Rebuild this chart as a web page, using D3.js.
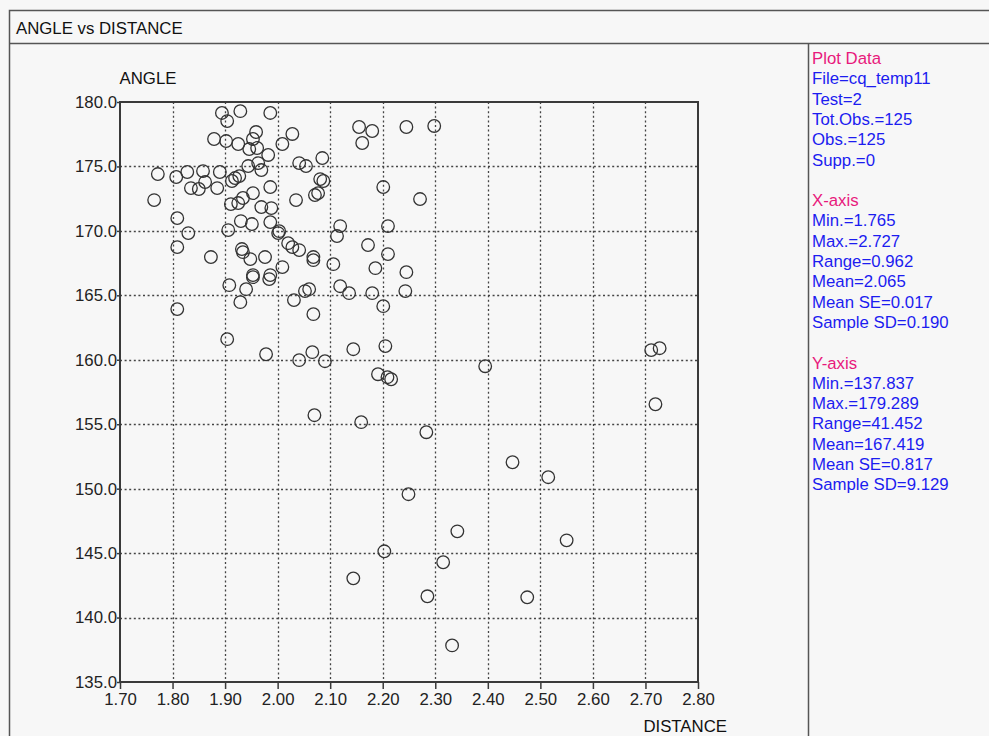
<!DOCTYPE html>
<html>
<head>
<meta charset="utf-8">
<script src="https://cdn.jsdelivr.net/npm/d3@7"></script>
<style>
  html, body { margin: 0; padding: 0; background: #f7f7f7; }
  svg { display: block; font-family: "Liberation Sans", Arial, sans-serif; }
</style>
</head>
<body>
<svg id="chart" width="989" height="736"></svg>
<script>
// DISTANCE values (x)
var distance = [
  1.894, 1.904, 1.929, 1.986, 1.879, 1.902, 1.925, 1.959, 1.953, 1.946,
  1.961, 1.982, 2.009, 2.028, 1.858, 1.862, 1.885, 1.890, 1.913, 1.919,
  1.927, 1.944, 1.963, 1.969, 1.986, 1.953, 1.934, 1.925, 1.911, 1.969,
  1.988, 1.930, 1.951, 1.986, 1.906, 2.003, 2.035, 2.041, 2.054, 2.085,
  2.081, 2.087, 2.077, 2.071, 1.772, 1.807, 1.828, 1.835, 1.850, 1.765,
  1.809, 1.830, 1.809, 1.873, 1.908, 1.809, 1.904, 1.932, 1.934, 1.948,
  1.976, 2.009, 2.001, 2.020, 2.028, 2.041, 2.068, 2.068, 1.953, 1.953,
  1.986, 1.984, 1.940, 1.929, 2.031, 2.052, 2.060, 2.068, 1.978, 2.041,
  2.066, 2.155, 2.180, 2.161, 2.245, 2.298, 2.201, 2.271, 2.119, 2.113,
  2.210, 2.172, 2.210, 2.106, 2.186, 2.245, 2.119, 2.136, 2.180, 2.243,
  2.201, 2.144, 2.205, 2.090, 2.395, 2.191, 2.209, 2.216, 2.159, 2.283,
  2.447, 2.515, 2.249, 2.342, 2.550, 2.203, 2.315, 2.144, 2.285, 2.475,
  2.332, 2.711, 2.727, 2.719, 2.070
];

// ANGLE values (y)
var angle = [
  179.15, 178.52, 179.29, 179.15, 177.13, 176.97, 176.74, 177.67, 177.13, 176.35,
  176.43, 175.89, 176.74, 177.52, 174.64, 173.79, 173.32, 174.57, 173.87, 174.10,
  174.25, 175.03, 175.26, 174.72, 173.40, 172.93, 172.55, 172.16, 172.08, 171.85,
  171.77, 170.76, 170.53, 170.68, 170.06, 169.98, 172.39, 175.26, 175.03, 175.65,
  174.02, 173.87, 172.93, 172.78, 174.41, 174.18, 174.57, 173.32, 173.25, 172.39,
  170.99, 169.83, 168.74, 167.97, 165.79, 163.93, 161.60, 168.59, 168.35, 167.81,
  167.97, 167.19, 169.83, 169.05, 168.74, 168.51, 167.97, 167.73, 166.41, 166.57,
  166.57, 166.26, 165.48, 164.47, 164.63, 165.33, 165.48, 163.54, 160.43, 159.97,
  160.59, 178.06, 177.75, 176.82, 178.06, 178.14, 173.40, 172.47, 170.37, 169.60,
  170.37, 168.90, 168.20, 167.42, 167.11, 166.80, 165.71, 165.17, 165.17, 165.33,
  164.16, 160.82, 161.06, 159.89, 159.50, 158.88, 158.65, 158.49, 155.16, 154.38,
  152.05, 150.89, 149.57, 146.69, 145.99, 145.14, 144.29, 143.04, 141.65, 141.57,
  137.84, 160.75, 160.90, 156.55, 155.70
];

var xTicks = [1.7, 1.8, 1.9, 2.0, 2.1, 2.2, 2.3, 2.4, 2.5, 2.6, 2.7, 2.8];
var yTicks = [135, 140, 145, 150, 155, 160, 165, 170, 175, 180];

var chartTitle = 'ANGLE vs DISTANCE';
var xTitle = 'DISTANCE';
var yTitle = 'ANGLE';

// side panel: [text, isHeading]
var panelLines = [
  ['Plot Data', true], ['File=cq_temp11', false], ['Test=2', false],
  ['Tot.Obs.=125', false], ['Obs.=125', false], ['Supp.=0', false],
  ['', false],
  ['X-axis', true], ['Min.=1.765', false], ['Max.=2.727', false],
  ['Range=0.962', false], ['Mean=2.065', false], ['Mean SE=0.017', false],
  ['Sample SD=0.190', false],
  ['', false],
  ['Y-axis', true], ['Min.=137.837', false], ['Max.=179.289', false],
  ['Range=41.452', false], ['Mean=167.419', false], ['Mean SE=0.817', false],
  ['Sample SD=9.129', false]
];

var FONT = 16.8;
var LINE = '#3a3a3a';

var svg = d3.select('#chart');

// Frame and title bar
svg.append('rect')
  .attr('x', 9.5).attr('y', 10.5)
  .attr('width', 1000).attr('height', 760)
  .attr('fill', 'none').attr('stroke', '#555').attr('stroke-width', 1.5);
svg.append('line')
  .attr('x1', 9.5).attr('x2', 989).attr('y1', 43.5).attr('y2', 43.5)
  .attr('stroke', '#555').attr('stroke-width', 1.5);
svg.append('line')
  .attr('x1', 808.5).attr('x2', 808.5).attr('y1', 43.5).attr('y2', 736)
  .attr('stroke', '#555').attr('stroke-width', 1.5);
svg.append('text')
  .attr('x', 16).attr('y', 34)
  .attr('font-size', FONT).attr('fill', '#111')
  .text(chartTitle);

// Scales
var x = d3.scaleLinear().domain([1.7, 2.8]).range([120, 698]);
var y = d3.scaleLinear().domain([135, 180]).range([682, 102]);

// Grid (dotted)
var grid = svg.append('g');
grid.selectAll('.vgrid')
  .data(xTicks.slice(1, -1))
  .enter().append('line')
  .attr('x1', function(d) { return Math.round(x(d)) + 0.5; })
  .attr('x2', function(d) { return Math.round(x(d)) + 0.5; })
  .attr('y1', y(180)).attr('y2', y(135))
  .attr('stroke', '#444').attr('stroke-width', 1.3)
  .attr('stroke-dasharray', '2,2.6');
grid.selectAll('.hgrid')
  .data(yTicks.slice(1, -1))
  .enter().append('line')
  .attr('y1', function(d) { return Math.round(y(d)) + 0.5; })
  .attr('y2', function(d) { return Math.round(y(d)) + 0.5; })
  .attr('x1', x(1.7)).attr('x2', x(2.8))
  .attr('stroke', '#444').attr('stroke-width', 1.3)
  .attr('stroke-dasharray', '2,2.6');

// Axes
var xAxis = d3.axisBottom(x)
  .tickValues(xTicks)
  .tickFormat(d3.format('.2f'))
  .tickSize(7)
  .tickPadding(4);
var gx = svg.append('g')
  .attr('transform', 'translate(0,' + y(135) + ')')
  .call(xAxis);

var yAxis = d3.axisLeft(y)
  .tickValues(yTicks)
  .tickFormat(d3.format('.1f'))
  .tickSize(3)
  .tickPadding(0);
var gy = svg.append('g')
  .attr('transform', 'translate(' + x(1.7) + ',0)')
  .call(yAxis);

[gx, gy].forEach(function(g) {
  g.select('.domain').remove();
  g.selectAll('.tick line').attr('stroke', LINE).attr('stroke-width', 1.5);
  g.selectAll('.tick text')
    .attr('font-size', FONT)
    .attr('font-family', '"Liberation Sans", Arial, sans-serif')
    .attr('fill', '#222');
});

// plot box
svg.append('rect')
  .attr('x', x(1.7)).attr('y', y(180))
  .attr('width', x(2.8) - x(1.7)).attr('height', y(135) - y(180))
  .attr('fill', 'none').attr('stroke', LINE).attr('stroke-width', 2);

// Axis titles
svg.append('text')
  .attr('x', 148).attr('y', 84)
  .attr('text-anchor', 'middle')
  .attr('font-size', FONT).attr('fill', '#111')
  .text(yTitle);
svg.append('text')
  .attr('x', 727).attr('y', 732)
  .attr('text-anchor', 'end')
  .attr('font-size', FONT).attr('fill', '#111')
  .text(xTitle);

// Points
svg.append('g')
  .selectAll('circle')
  .data(distance.map(function(d, i) { return [d, angle[i]]; }))
  .enter().append('circle')
  .attr('cx', function(d) { return x(d[0]); })
  .attr('cy', function(d) { return y(d[1]); })
  .attr('r', 6.3)
  .attr('fill', 'none')
  .attr('stroke', '#333')
  .attr('stroke-width', 1.3);

// Side panel
svg.append('g')
  .selectAll('text')
  .data(panelLines)
  .enter().append('text')
  .attr('x', 812)
  .attr('y', function(d, i) { return 64 + i * 20.3; })
  .attr('font-size', FONT)
  .attr('fill', function(d) { return d[1] ? '#e8197c' : '#1c1cf0'; })
  .text(function(d) { return d[0]; });
</script>
</body>
</html>
